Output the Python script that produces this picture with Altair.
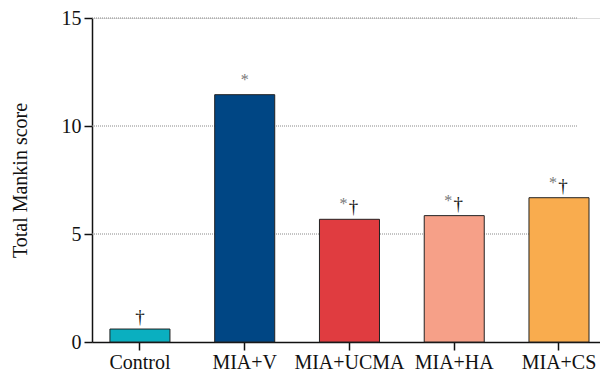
import altair as alt
import pandas as pd

groups = ["Control", "MIA+V", "MIA+UCMA", "MIA+HA", "MIA+CS"]
scores = [0.6, 11.45, 5.68, 5.85, 6.68]
colors = ["#0AAFC0", "#004684", "#E03C40", "#F6A088", "#F9AC4E"]
star = [False, True, True, True, True]
dagger = [True, False, True, True, True]
grid_values = [5, 10, 15]

df = pd.DataFrame({"group": groups, "score": scores, "star": star, "dagger": dagger})
df["both"] = df["star"] & df["dagger"]
grid_df = pd.DataFrame({"g": grid_values})

FONT = "Liberation Serif"

x = alt.X("group:N", sort=groups, title=None,
          scale=alt.Scale(paddingInner=0.427, paddingOuter=0.138, align=0.62),
          axis=alt.Axis(labelAngle=0, labelFont=FONT, labelFontSize=20, labelColor="#111",
                        domainColor="#111", tickColor="#111", tickSize=8, labelPadding=2,
                        domainWidth=1.5, tickWidth=1.5))
y = alt.Y("score:Q", title="Total Mankin score",
          scale=alt.Scale(domain=[0, 15], nice=False),
          axis=alt.Axis(values=[0, 5, 10, 15], grid=False, labelFont=FONT, labelFontSize=20,
                        labelColor="#111", titleFont=FONT, titleFontSize=20, titleFontWeight="normal",
                        titleColor="#111", domainColor="#111", tickColor="#111", tickSize=8,
                        labelPadding=3, titlePadding=31, domainWidth=1.5, tickWidth=1.5))

grid = alt.Chart(grid_df).mark_rule(color="#888", strokeDash=[1, 1], strokeWidth=1).encode(
    y=alt.Y("g:Q", scale=alt.Scale(domain=[0, 15], nice=False)),
    x=alt.value(0), x2=alt.value(486))

bars = alt.Chart(df).mark_bar(stroke="#222", strokeWidth=1).encode(
    x=x, y=y,
    color=alt.Color("group:N", sort=groups, scale=alt.Scale(domain=groups, range=colors), legend=None))

base = alt.Chart(df).encode(x=alt.X("group:N", sort=groups), y=alt.Y("score:Q"))

star_solo = base.transform_filter("datum.star && !datum.dagger").mark_text(
    text="*", font=FONT, fontSize=16, color="#777", baseline="alphabetic", dy=-10)
star_both = base.transform_filter("datum.both").mark_text(
    text="*", font=FONT, fontSize=16, color="#777", baseline="alphabetic", dy=-10, dx=-6)
dag_solo = base.transform_filter("datum.dagger && !datum.star").mark_text(
    text="†", font=FONT, fontSize=19, color="#111", baseline="alphabetic", dy=-6)
dag_both = base.transform_filter("datum.both").mark_text(
    text="†", font=FONT, fontSize=19, color="#111", baseline="alphabetic", dy=-6, dx=4)

chart = alt.layer(grid, bars, star_solo, star_both, dag_solo, dag_both).properties(
    width=508, height=324,
    autosize=alt.AutoSizeParams(type="none"),
    padding={"left": 84, "top": 10, "right": 0, "bottom": 31},
).configure_view(stroke=None).configure(background="white")

chart.save("out.html", embed_options={"renderer": "svg", "actions": False})
